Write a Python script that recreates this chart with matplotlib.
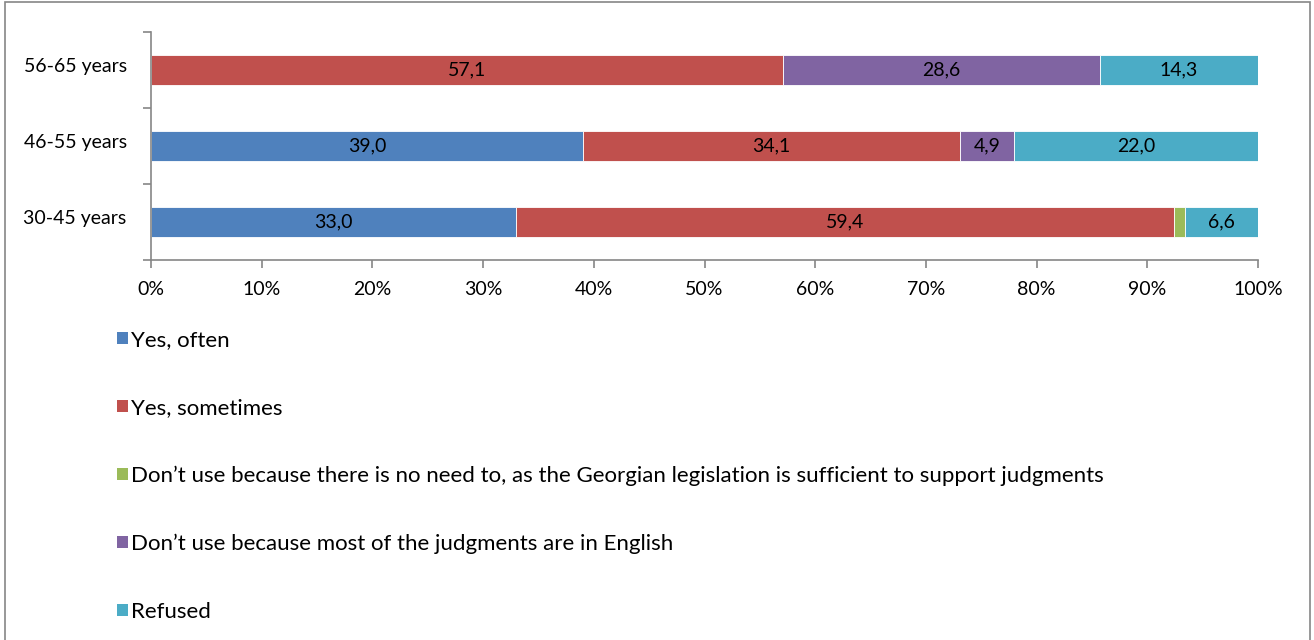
import matplotlib
matplotlib.use("Agg")
import matplotlib.pyplot as plt
from matplotlib.patches import Patch, Rectangle

plt.rcParams['font.family'] = ['Lato', 'DejaVu Sans']

age_groups = ['30-45 years', '46-55 years', '56-65 years']
series_names = ['Yes, often',
                'Yes, sometimes',
                'Don\u2019t use because there is no need to, as the Georgian legislation is sufficient to support judgments',
                'Don\u2019t use because most of the judgments are in English',
                'Refused']
yes_often = [33.0, 39.0, 0.0]
yes_sometimes = [59.4, 34.1, 57.1]
no_need = [1.0, 0.0, 0.0]
english = [0.0, 4.9, 28.6]
refused = [6.6, 22.0, 14.3]
colors = ['#4F81BD', '#C0504D', '#9BBB59', '#8064A2', '#4BACC6']

series = [yes_often, yes_sometimes, no_need, english, refused]

fig = plt.figure(figsize=(13.14, 6.4), dpi=100)
ax = fig.add_axes([151 / 1314, 1 - 260 / 640, (1258 - 151) / 1314, (260 - 32) / 640])

ypos = list(range(len(age_groups)))
left = [0.0] * len(age_groups)
for vals, color in zip(series, colors):
    bars = ax.barh(ypos, vals, left=left, height=0.4, color=color,
                   edgecolor='white', linewidth=0.6)
    for b, v in zip(bars, vals):
        if v >= 3:
            ax.text(b.get_x() + b.get_width() / 2, b.get_y() + b.get_height() / 2,
                    f'{v:.1f}'.replace('.', ','), ha='center', va='center',
                    fontsize=14, color='black')
    left = [l + v for l, v in zip(left, vals)]

ax.set_xlim(0, 100)
ax.set_ylim(-0.5, 2.5)
ax.set_xticks(range(0, 101, 10))
ax.set_xticklabels([f'{t}%' for t in range(0, 101, 10)], fontsize=14)
ax.set_yticks([-0.5, 0.5, 1.5, 2.5])
ax.set_yticklabels([])
# category names sit a little above the bar centres
ax.set_yticks([y + 0.07 for y in ypos], minor=True)
ax.set_yticklabels(age_groups, minor=True, fontsize=14)
ax.tick_params(axis='y', which='minor', length=0, pad=17.5)
ax.tick_params(axis='both', which='major', color='#868686', length=6, width=1.2)
ax.tick_params(axis='x', pad=9)
for side in ['top', 'right']:
    ax.spines[side].set_visible(False)
for side in ['left', 'bottom']:
    ax.spines[side].set_color('#868686')
    ax.spines[side].set_linewidth(1.2)

handles = [Patch(facecolor=c, edgecolor='none') for c in colors]
fig.legend(handles, series_names, loc='upper left', bbox_to_anchor=(117 / 1314, 1 - 330 / 640),
           frameon=False, fontsize=16, handlelength=0.5, handleheight=0.5,
           handletextpad=0.12, labelspacing=2.15, borderpad=0, borderaxespad=0)

fig.patches.append(Rectangle((5 / 1314, -0.01), 1305 / 1314, 1 - 2 / 640 + 0.01,
                             transform=fig.transFigure, fill=False,
                             edgecolor='#868686', linewidth=1.2))

fig.savefig('out.png', dpi=100)
